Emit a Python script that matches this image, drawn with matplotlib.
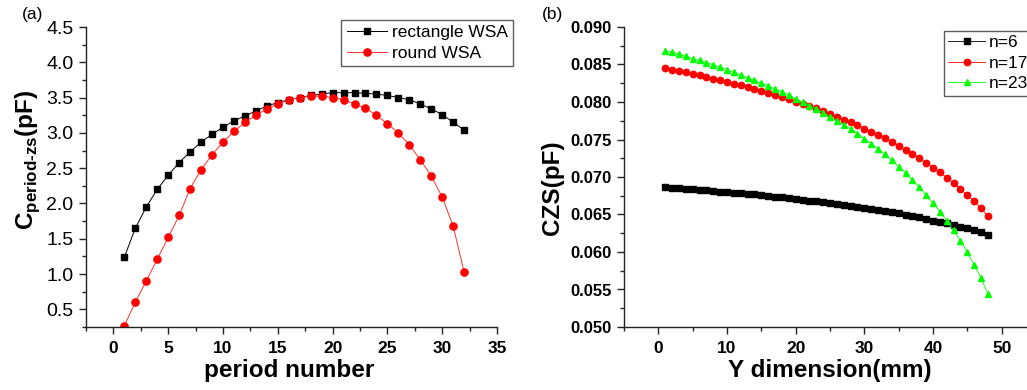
import matplotlib
matplotlib.use("Agg")
import matplotlib.pyplot as plt
from matplotlib.ticker import MultipleLocator

plt.rcParams['font.family'] = ['Liberation Sans', 'DejaVu Sans']

# ---------------- data (a) ----------------
period = list(range(1, 33))
rect_wsa = [1.24, 1.65, 1.95, 2.20, 2.40, 2.58, 2.73, 2.87, 2.98, 3.08,
            3.17, 3.24, 3.31, 3.38, 3.43, 3.47, 3.50, 3.53, 3.55, 3.57,
            3.57, 3.57, 3.56, 3.55, 3.53, 3.50, 3.47, 3.41, 3.34, 3.26,
            3.15, 3.04]
round_wsa = [0.27, 0.60, 0.905, 1.21, 1.52, 1.83, 2.21, 2.48, 2.69, 2.87,
             3.02, 3.15, 3.25, 3.34, 3.41, 3.47, 3.50, 3.52, 3.52, 3.50,
             3.47, 3.41, 3.35, 3.25, 3.13, 3.00, 2.83, 2.62, 2.39, 2.09,
             1.68, 1.03]

# ---------------- data (b) ----------------
ydim = list(range(1, 49))
n6 = [0.06862, 0.06853, 0.06849, 0.06840, 0.06836, 0.06831, 0.06822, 0.06813,
      0.06804, 0.06796, 0.06791, 0.06787, 0.06778, 0.06769, 0.06760, 0.06747,
      0.06738, 0.06729, 0.06716, 0.06707, 0.06693, 0.06684, 0.06676, 0.06667,
      0.06649, 0.06636, 0.06627, 0.06613, 0.06596, 0.06587, 0.06569, 0.06556,
      0.06542, 0.06529, 0.06516, 0.06489, 0.06476, 0.06462, 0.06440, 0.06418,
      0.06400, 0.06382, 0.06360, 0.06338, 0.06316, 0.06293, 0.06260, 0.06222]
n17 = [0.08458, 0.08431, 0.08413, 0.08396, 0.08373, 0.08356, 0.08333, 0.08311,
       0.08289, 0.08262, 0.08244, 0.08227, 0.08196, 0.08173, 0.08147, 0.08124,
       0.08098, 0.08067, 0.08036, 0.08000, 0.07969, 0.07947, 0.07920, 0.07880,
       0.07844, 0.07804, 0.07764, 0.07729, 0.07689, 0.07644, 0.07604, 0.07560,
       0.07516, 0.07467, 0.07418, 0.07364, 0.07311, 0.07249, 0.07187, 0.07124,
       0.07062, 0.06991, 0.06920, 0.06840, 0.06756, 0.06676, 0.06582, 0.06480]
n23 = [0.08680, 0.08662, 0.08636, 0.08609, 0.08578, 0.08556, 0.08524, 0.08498,
       0.08462, 0.08431, 0.08396, 0.08360, 0.08324, 0.08289, 0.08249, 0.08218,
       0.08173, 0.08138, 0.08089, 0.08040, 0.07996, 0.07951, 0.07907, 0.07858,
       0.07800, 0.07751, 0.07698, 0.07640, 0.07578, 0.07511, 0.07444, 0.07373,
       0.07302, 0.07222, 0.07138, 0.07053, 0.06960, 0.06862, 0.06760, 0.06653,
       0.06538, 0.06418, 0.06289, 0.06151, 0.05996, 0.05827, 0.05649, 0.05444]

W, H = 1027, 390
fig = plt.figure(figsize=(W / 100, H / 100), dpi=100)

def px_axes(l, r, t, b):
    return fig.add_axes([l / W, 1 - b / H, (r - l) / W, (b - t) / H])

def style(ax, xbold, ybold, xsize, ysize):
    for s in ['top', 'right']:
        ax.spines[s].set_visible(False)
    for s in ['left', 'bottom']:
        ax.spines[s].set_linewidth(1.0)
        ax.spines[s].set_color('#222222')
    ax.tick_params(which='major', direction='out', length=5, width=1, color='#222222')
    ax.tick_params(which='minor', direction='out', length=3, width=1, color='#222222')
    ax.tick_params(axis='x', which='major', pad=5, labelsize=xsize)
    ax.tick_params(axis='y', which='major', pad=4, labelsize=ysize)
    for lab in ax.get_xticklabels():
        lab.set_fontweight('bold' if xbold else 'normal')
    for lab in ax.get_yticklabels():
        lab.set_fontweight('bold' if ybold else 'normal')

# ---------------- panel (a) ----------------
ax1 = px_axes(86, 497, 27, 327)
ax1.plot(period, rect_wsa, '-', color='black', lw=0.7, marker='s', ms=4.8,
         mfc='black', mec='black', label='rectangle WSA')
ax1.plot(period, round_wsa, '-', color='#ff3030', lw=0.7, marker='o', ms=5.2,
         mfc='#ff0000', mec='#ff0000', label='round WSA')
ax1.set_xlim(-2.5, 35)
ax1.set_ylim(0.25, 4.5)
ax1.xaxis.set_major_locator(MultipleLocator(5))
ax1.xaxis.set_minor_locator(MultipleLocator(2.5))
ax1.yaxis.set_major_locator(MultipleLocator(0.5))
ax1.yaxis.set_minor_locator(MultipleLocator(0.25))
ax1.set_yticks([0.5, 1.0, 1.5, 2.0, 2.5, 3.0, 3.5, 4.0, 4.5])
ax1.set_xticks([0, 5, 10, 15, 20, 25, 30, 35])
style(ax1, True, False, 12.5, 14)
ax1.set_xlabel('period number', fontsize=17.5, fontweight='bold')
ax1.xaxis.set_label_coords(0.495, -0.105)
ax1.set_ylabel('C$_\\mathregular{period\u2010zs}$(pF)', fontsize=17.5, fontweight='bold')
ax1.yaxis.set_label_coords(-0.108, 0.557)
leg1 = ax1.legend(loc='upper right', bbox_to_anchor=(513 / W, 1 - 20 / H),
                  bbox_transform=fig.transFigure, fontsize=12.5, frameon=True,
                  fancybox=False, edgecolor='#333333', handlelength=2.3,
                  borderpad=0.3, labelspacing=0.3, handletextpad=0.3,
                  borderaxespad=0)
leg1.get_frame().set_linewidth(1.0)

# ---------------- panel (b) ----------------
ax2 = px_axes(624, 1036, 27, 327)
ax2.plot(ydim, n6, '-', color='black', lw=0.6, marker='s', ms=4.2,
         mfc='black', mec='black', label='n=6')
ax2.plot(ydim, n17, '-', color='#ff0000', lw=0.6, marker='o', ms=4.6,
         mfc='#ff0000', mec='#ff0000', label='n=17')
ax2.plot(ydim, n23, '-', color='#00ff00', lw=0.6, marker='^', ms=5.0,
         mfc='#00ff00', mec='#00ff00', label='n=23')
ax2.set_xlim(-5, 55)
ax2.set_ylim(0.050, 0.090)
ax2.xaxis.set_major_locator(MultipleLocator(10))
ax2.xaxis.set_minor_locator(MultipleLocator(5))
ax2.set_xticks([0, 10, 20, 30, 40, 50])
ax2.set_yticks([0.050, 0.055, 0.060, 0.065, 0.070, 0.075, 0.080, 0.085, 0.090])
ax2.set_yticklabels(['%.3f' % v for v in ax2.get_yticks()])
ax2.yaxis.set_minor_locator(MultipleLocator(0.0025))
style(ax2, True, True, 12.5, 12)
ax2.set_xlabel('Y dimension(mm)', fontsize=17.5, fontweight='bold')
ax2.xaxis.set_label_coords(0.499, -0.105)
ax2.set_ylabel('CZS(pF)', fontsize=17.5, fontweight='bold')
ax2.yaxis.set_label_coords(-0.146, 0.463)
leg2 = ax2.legend(loc='upper left', bbox_to_anchor=(944 / W, 1 - 31 / H),
                  bbox_transform=fig.transFigure, fontsize=12.5, frameon=True,
                  fancybox=False, edgecolor='#333333', handlelength=2.1,
                  borderpad=0.25, labelspacing=0.3, handletextpad=0.25,
                  borderaxespad=0)
leg2.get_frame().set_linewidth(1.0)

# panel labels
fig.text(22 / W, 1 - 15 / H, '(a)', fontsize=12.5, va='center', ha='left')
fig.text(542 / W, 1 - 15 / H, '(b)', fontsize=12.5, va='center', ha='left')

fig.savefig('out.png', dpi=100)
